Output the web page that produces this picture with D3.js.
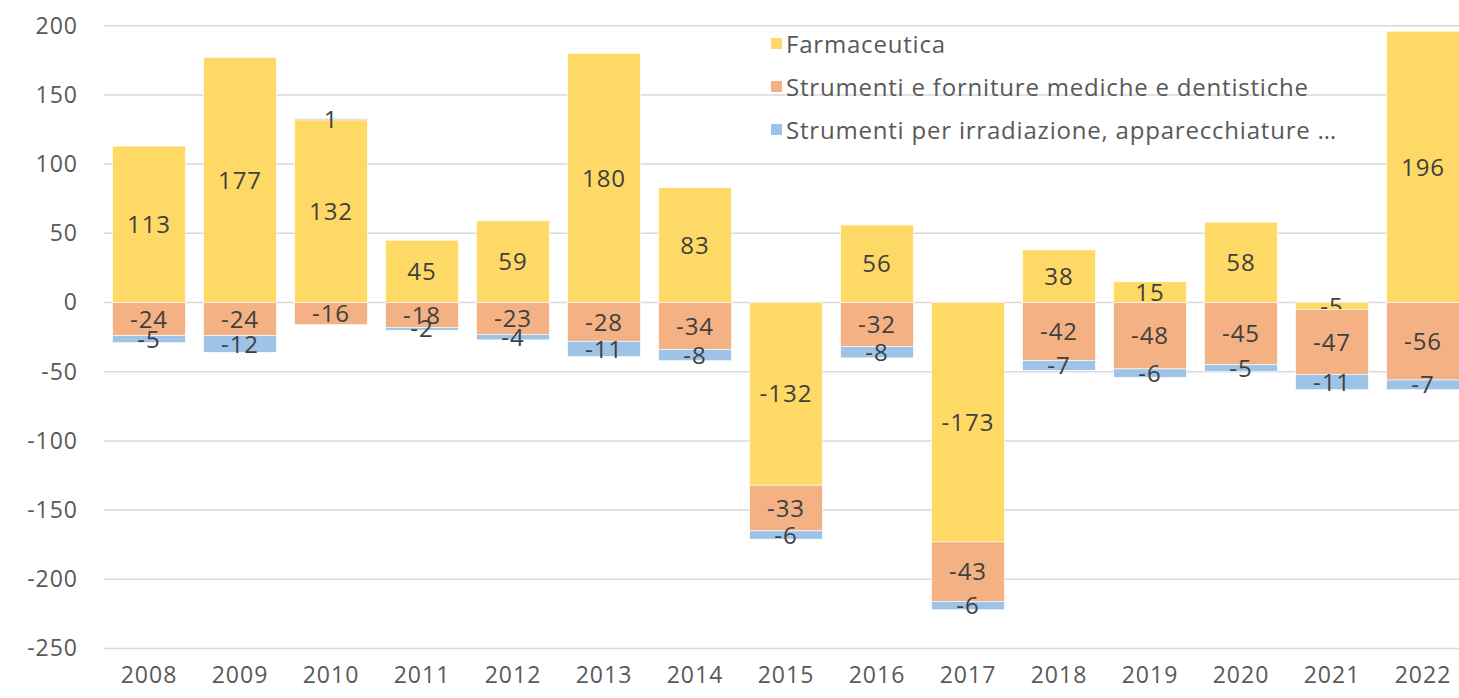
<!DOCTYPE html>
<html>
<head>
<meta charset="utf-8">
<script src="https://cdn.jsdelivr.net/npm/d3@7"></script>
<style>
  html, body { margin: 0; padding: 0; background: #fff; }
  svg { display: block; font-family: "Open Sans", sans-serif; }
</style>
</head>
<body>
<svg id="chart" width="1459" height="698"></svg>
<script>
// dati
let years = ["2008", "2009", "2010", "2011", "2012", "2013", "2014", "2015",
  "2016", "2017", "2018", "2019", "2020", "2021", "2022"];
let seriesNames = [
  "Farmaceutica",
  "Strumenti e forniture mediche e dentistiche",
  "Strumenti per irradiazione, apparecchiature …"
];
let farmaceutica = [113, 177, 132, 45, 59, 180, 83, -132, 56, -173, 38, 15, 58, -5, 196];
let forniture = [-24, -24, -16, -18, -23, -28, -34, -33, -32, -43, -42, -48, -45, -47, -56];
let irradiazione = [-5, -12, 1, -2, -4, -11, -8, -6, -8, -6, -7, -6, -5, -11, -7];
let yTicks = [200, 150, 100, 50, 0, -50, -100, -150, -200, -250];
let colors = ["#FFD966", "#F4B183", "#9DC3E6"];

let svg = d3.select("#chart");
let width = 1459;
let margin = {top: 25.7, bottom: 648.5, left: 103.5};

// tabella per d3.stack
let table = years.map((y, i) => ({
  year: y, s0: farmaceutica[i], s1: forniture[i], s2: irradiazione[i]
}));
let keys = ["s0", "s1", "s2"];
let stacked = d3.stack().keys(keys).offset(d3.stackOffsetDiverging)(table);

let x = d3.scaleBand()
  .domain(years)
  .range([margin.left, margin.left + 91 * years.length])
  .paddingInner(0.2)
  .paddingOuter(0.1);

let y = d3.scaleLinear()
  .domain([-250, 200])
  .range([margin.bottom, margin.top]);

// trattino normale al posto del segno meno
let fmt = d => String(d);

// griglia
svg.append("g")
  .selectAll("line")
  .data(yTicks)
  .join("line")
  .attr("x1", margin.left)
  .attr("x2", width)
  .attr("y1", d => y(d))
  .attr("y2", d => y(d))
  .attr("stroke", "#d9d9d9")
  .attr("stroke-width", 1.5);

// asse y
let yAxis = svg.append("g")
  .attr("transform", "translate(78,0)")
  .call(d3.axisLeft(y).tickValues(yTicks).tickFormat(fmt).tickSize(0).tickPadding(0));
yAxis.select(".domain").remove();
yAxis.selectAll("text")
  .attr("fill", "#595959")
  .style("font-size", "23px")
  .style("font-family", "'Open Sans', sans-serif")
  .attr("letter-spacing", "1px");

// asse x
let xAxis = svg.append("g")
  .attr("transform", "translate(0,661)")
  .call(d3.axisBottom(x).tickSize(0).tickPadding(0));
xAxis.select(".domain").remove();
xAxis.selectAll("text")
  .attr("fill", "#595959")
  .attr("dy", "0.95em")
  .style("font-size", "23px")
  .style("font-family", "'Open Sans', sans-serif")
  .attr("letter-spacing", "1px");

// barre
let layers = svg.append("g")
  .selectAll("g")
  .data(stacked)
  .join("g")
  .attr("fill", (d, i) => colors[i]);

layers.selectAll("rect")
  .data(d => d)
  .join("rect")
  .attr("x", d => x(d.data.year))
  .attr("width", x.bandwidth())
  .attr("y", d => y(Math.max(d[0], d[1])))
  .attr("height", d => Math.abs(y(d[0]) - y(d[1])))
  .attr("stroke", "#fff")
  .attr("stroke-width", 0.6);

// etichette
layers.each(function(layer) {
  d3.select(this).selectAll("text")
    .data(layer)
    .join("text")
    .attr("x", d => x(d.data.year) + x.bandwidth() / 2)
    .attr("y", d => y((d[0] + d[1]) / 2))
    .attr("dy", "0.36em")
    .attr("text-anchor", "middle")
    .attr("fill", "#404040")
    .attr("letter-spacing", "1px")
    .style("font-size", "24px")
    .text(d => fmt(d.data[layer.key]));
});

// legenda
let legend = svg.append("g")
  .attr("transform", "translate(771,44)");
let item = legend.selectAll("g")
  .data(seriesNames)
  .join("g")
  .attr("transform", (d, i) => `translate(0,${i * 43})`);
item.append("rect")
  .attr("x", 0)
  .attr("y", -6)
  .attr("width", 11)
  .attr("height", 11)
  .attr("fill", (d, i) => colors[i]);
item.append("text")
  .attr("x", 15)
  .attr("y", 0)
  .attr("dy", "0.36em")
  .attr("fill", "#595959")
  .attr("letter-spacing", "0.8px")
  .style("font-size", "24px")
  .text(d => d);
</script>
</body>
</html>
